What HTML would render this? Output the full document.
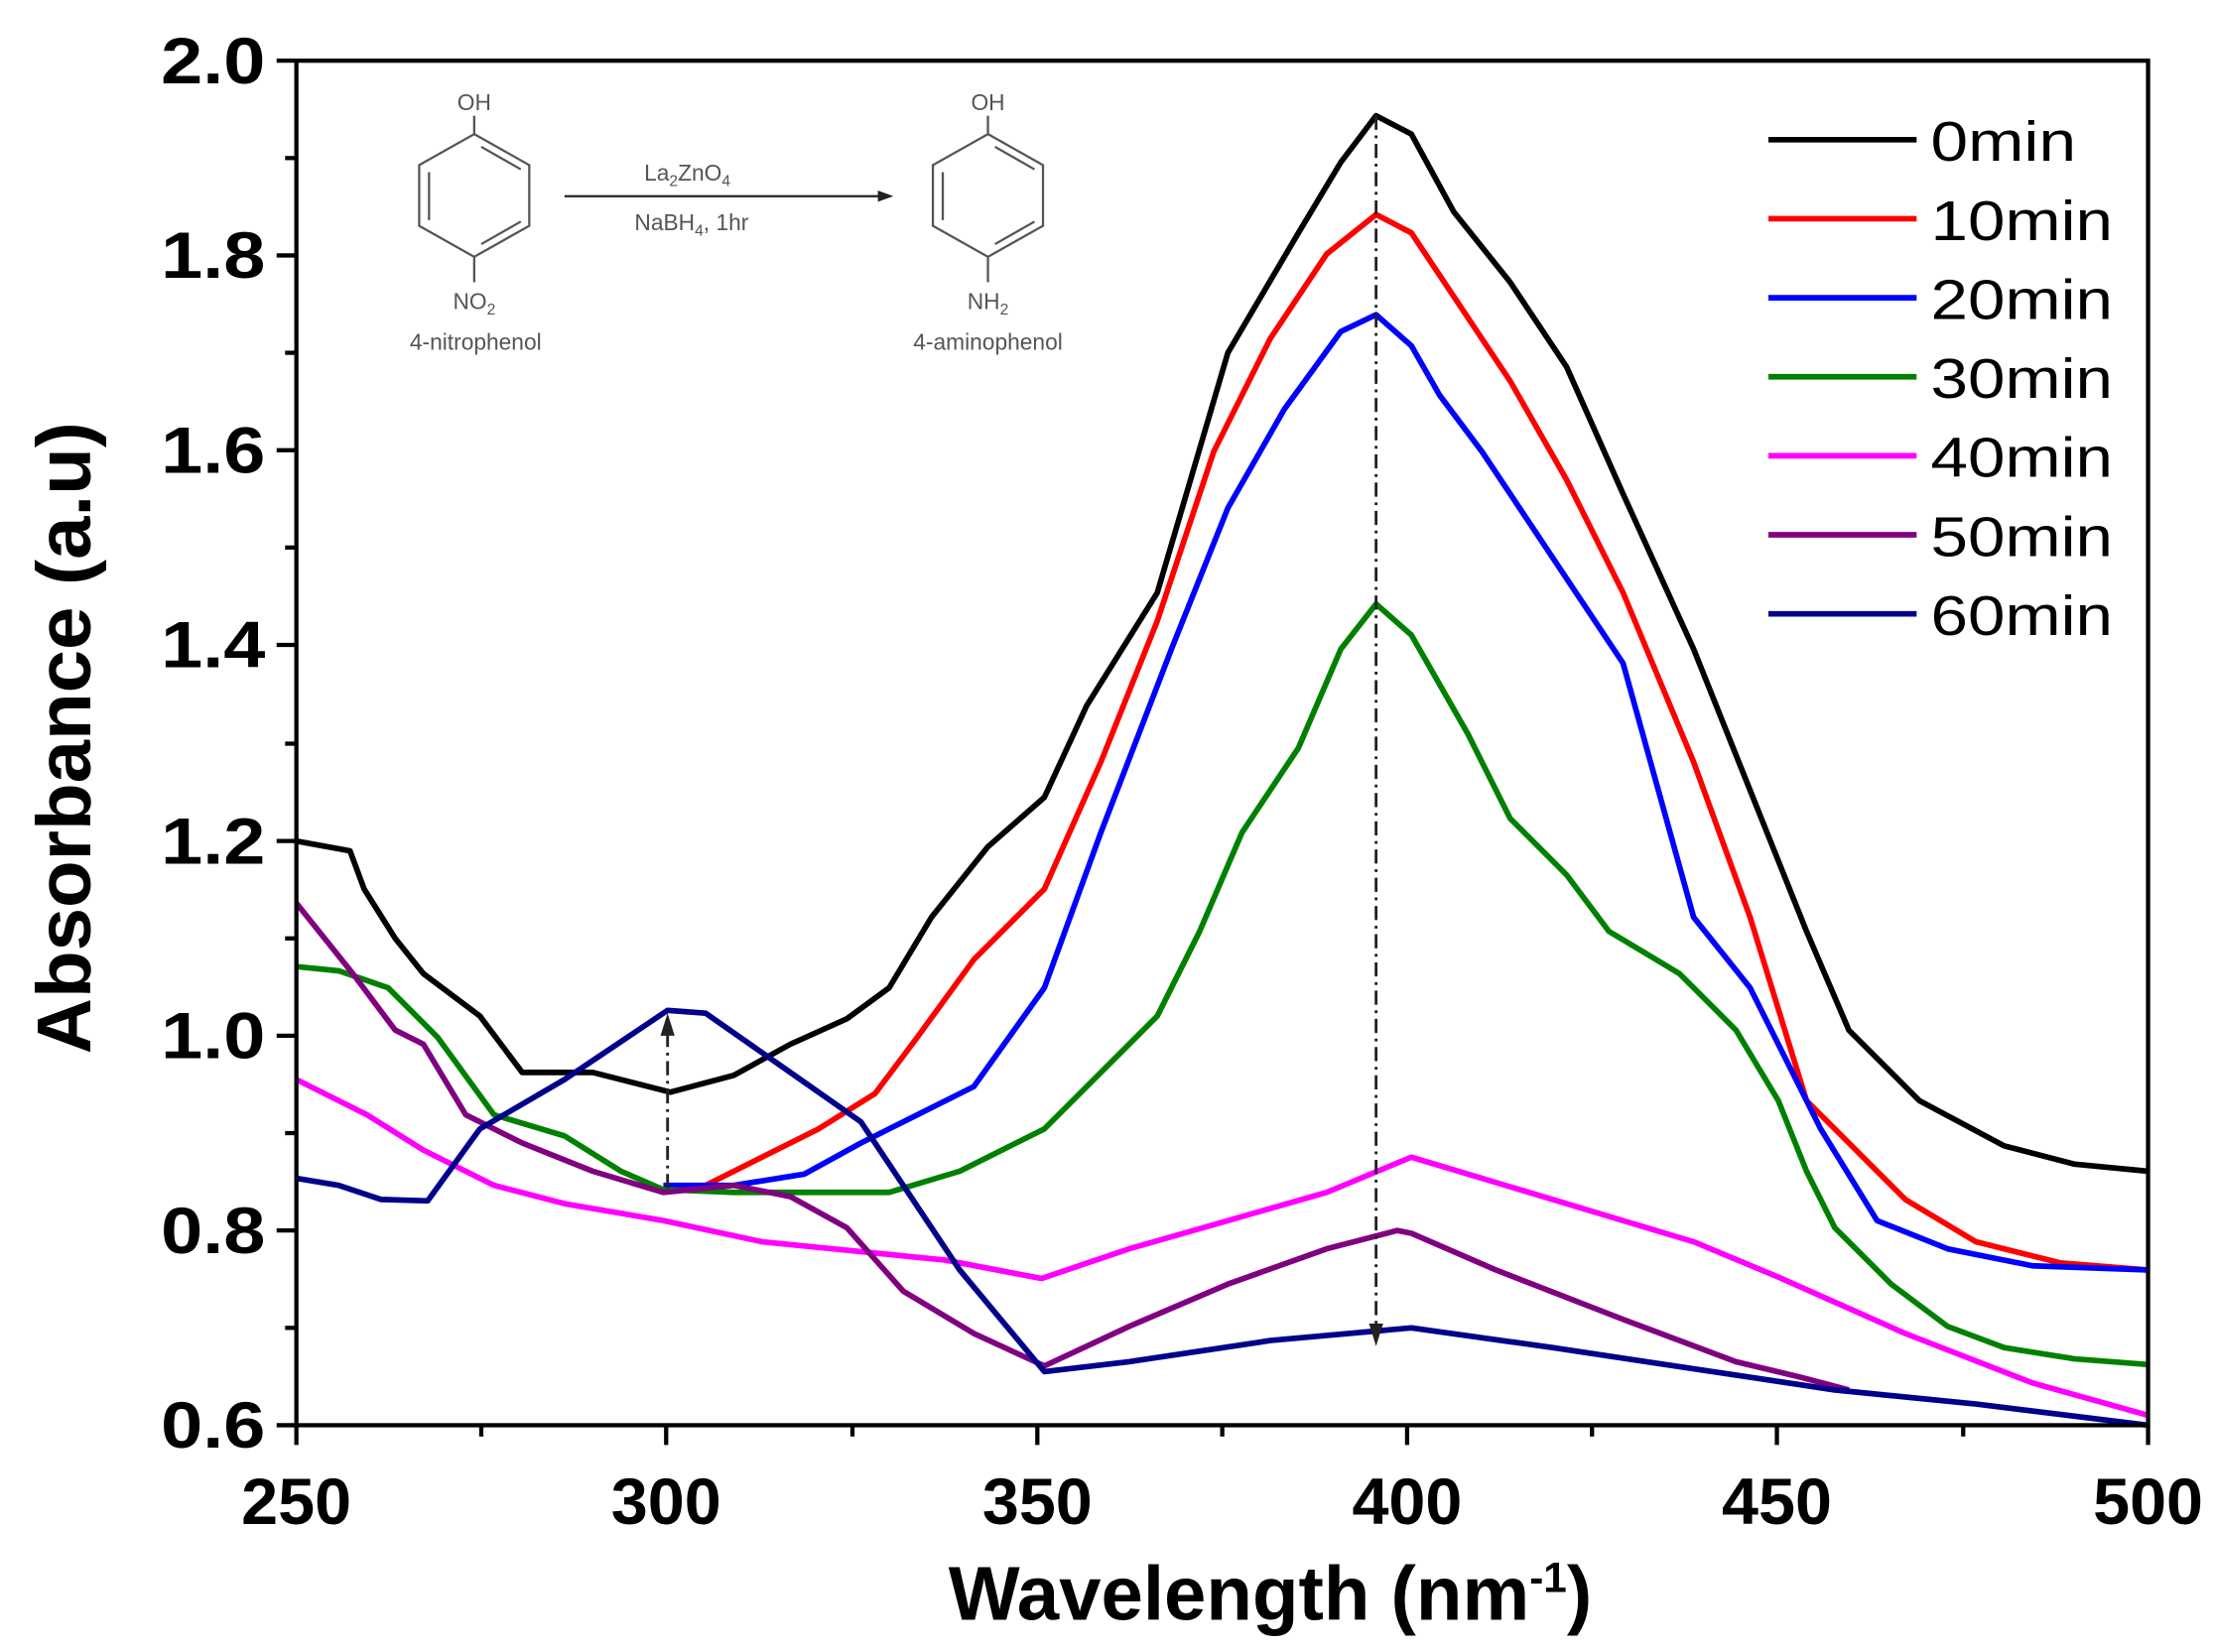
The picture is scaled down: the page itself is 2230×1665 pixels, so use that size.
<!DOCTYPE html>
<html><head><style>
html,body{margin:0;padding:0;background:#fff}
svg{display:block}
text{font-family:"Liberation Sans",sans-serif}
</style></head><body>
<svg width="2230" height="1665" viewBox="0 0 1568 1170.7" xmlns="http://www.w3.org/2000/svg">
<rect width="1568" height="1171" fill="#fff"/>
<g stroke="#555" stroke-width="1.6" fill="none">
<polygon points="336,95 375,117 375,160 336,182 297,160 297,117"/>
<line x1="304" y1="122" x2="304" y2="156"/><line x1="341" y1="104" x2="369" y2="120"/><line x1="341" y1="173" x2="369" y2="157"/>
<line x1="336" y1="95" x2="336" y2="82"/><line x1="336" y1="182" x2="336" y2="200"/>
<polygon points="700,95 739,117 739,160 700,182 661,160 661,117"/>
<line x1="668" y1="122" x2="668" y2="156"/><line x1="705" y1="104" x2="733" y2="120"/><line x1="705" y1="173" x2="733" y2="157"/>
<line x1="700" y1="95" x2="700" y2="82"/><line x1="700" y1="182" x2="700" y2="200"/>
<line x1="400" y1="139" x2="625" y2="139" stroke="#222"/>
</g>
<polygon points="633,139 622,135 622,143" fill="#222"/>
<g fill="#555" font-size="16" text-anchor="middle">
<text x="336" y="78">OH</text><text x="700" y="78">OH</text>
<text x="336" y="219">NO<tspan font-size="11" dy="4">2</tspan></text>
<text x="700" y="219">NH<tspan font-size="11" dy="4">2</tspan></text>
<text x="337" y="248">4-nitrophenol</text><text x="700" y="248">4-aminophenol</text>
<text x="487" y="128">La<tspan font-size="11" dy="4">2</tspan><tspan dy="-4">ZnO</tspan><tspan font-size="11" dy="4">4</tspan></text>
<text x="490" y="163">NaBH<tspan font-size="11" dy="4">4</tspan><tspan dy="-4">, 1hr</tspan></text>
</g>
<g fill="none" stroke-width="4" stroke-linejoin="round">
<polyline stroke="#000" points="210,596 248,603 258,630 280,665 300,690 340,720 370,760 420,760 475,774 520,762 560,740 600,722 630,700 660,650 700,600 740,565 770,500 820,420 870,250 920,165 950,115 975,82 1000,95 1030,150 1070,200 1110,260 1150,350 1200,460 1240,560 1280,660 1310,730 1360,780 1420,812 1470,825 1522,830"/>
<polyline stroke="#f00" points="470,843 500,840 540,820 580,800 620,775 650,735 690,680 740,630 780,540 820,440 860,320 900,240 940,180 975,152 1000,165 1030,210 1070,270 1110,340 1150,420 1200,540 1240,650 1280,780 1310,810 1350,850 1400,880 1460,895 1522,900"/>
<polyline stroke="#00f" points="470,840 520,840 570,832 610,810 650,790 690,770 740,700 780,590 830,460 870,360 910,290 950,235 975,223 1000,245 1020,280 1050,320 1090,380 1150,470 1200,650 1240,700 1290,800 1330,865 1380,885 1440,897 1522,900"/>
<polyline stroke="#008000" points="210,685 240,688 275,700 310,735 350,790 400,805 440,830 470,843 520,845 580,845 630,845 680,830 740,800 780,760 820,720 850,660 880,590 920,530 950,460 975,428 1000,450 1040,520 1070,580 1110,620 1140,660 1190,690 1230,730 1260,780 1280,830 1300,870 1340,910 1380,940 1420,955 1470,963 1522,967"/>
<polyline stroke="#f0f" points="210,765 260,790 300,815 350,840 400,853 470,865 540,880 600,886 670,893 738,906 800,885 870,865 940,845 1000,820 1100,850 1200,880 1260,905 1350,945 1440,980 1522,1003"/>
<polyline stroke="#800080" points="210,640 250,690 280,730 300,740 330,790 370,810 420,830 470,845 520,840 560,848 600,870 640,915 690,945 740,968 800,940 870,910 940,885 990,872 1000,874 1060,900 1150,935 1230,965 1276,976 1310,985"/>
<polyline stroke="#00008b" points="210,835 240,840 270,850 303,851 340,800 400,765 473,716 500,718 560,760 610,795 680,900 740,972 800,965 900,950 1000,941 1100,955 1200,970 1300,985 1400,995 1522,1010"/>
</g>
<g stroke="#222" stroke-width="2" stroke-dasharray="10,4,2,4" fill="none">
<line x1="975" y1="82" x2="975" y2="940"/><line x1="473" y1="842" x2="473" y2="732"/>
</g>
<polygon points="975,954 970,938 980,938" fill="#222"/>
<polygon points="473,718 468,734 478,734" fill="#222"/>
<rect x="210" y="43" width="1312" height="967" fill="none" stroke="#000" stroke-width="3"/>
<g stroke="#000" stroke-width="3">
<line x1="210" y1="1010" x2="210" y2="1024"/><line x1="341" y1="1010" x2="341" y2="1018"/>
<line x1="472" y1="1010" x2="472" y2="1024"/><line x1="604" y1="1010" x2="604" y2="1018"/>
<line x1="735" y1="1010" x2="735" y2="1024"/><line x1="866" y1="1010" x2="866" y2="1018"/>
<line x1="997" y1="1010" x2="997" y2="1024"/><line x1="1128" y1="1010" x2="1128" y2="1018"/>
<line x1="1259" y1="1010" x2="1259" y2="1024"/><line x1="1391" y1="1010" x2="1391" y2="1018"/>
<line x1="1522" y1="1010" x2="1522" y2="1024"/>
<line x1="196" y1="1010" x2="210" y2="1010"/><line x1="202" y1="941" x2="210" y2="941"/>
<line x1="196" y1="872" x2="210" y2="872"/><line x1="202" y1="803" x2="210" y2="803"/>
<line x1="196" y1="734" x2="210" y2="734"/><line x1="202" y1="665" x2="210" y2="665"/>
<line x1="196" y1="596" x2="210" y2="596"/><line x1="202" y1="527" x2="210" y2="527"/>
<line x1="196" y1="457" x2="210" y2="457"/><line x1="202" y1="388" x2="210" y2="388"/>
<line x1="196" y1="319" x2="210" y2="319"/><line x1="202" y1="250" x2="210" y2="250"/>
<line x1="196" y1="181" x2="210" y2="181"/><line x1="202" y1="112" x2="210" y2="112"/>
<line x1="196" y1="43" x2="210" y2="43"/>
</g>
<g font-size="46" font-weight="bold" text-anchor="middle" lengthAdjust="spacingAndGlyphs">
<text x="210" y="1080" textLength="78" lengthAdjust="spacingAndGlyphs">250</text><text x="472" y="1080" textLength="78" lengthAdjust="spacingAndGlyphs">300</text><text x="735" y="1080" textLength="78" lengthAdjust="spacingAndGlyphs">350</text>
<text x="997" y="1080" textLength="78" lengthAdjust="spacingAndGlyphs">400</text><text x="1259" y="1080" textLength="78" lengthAdjust="spacingAndGlyphs">450</text><text x="1522" y="1080" textLength="78" lengthAdjust="spacingAndGlyphs">500</text>
</g>
<g font-size="46" font-weight="bold" text-anchor="end">
<text x="188" y="1026" textLength="74" lengthAdjust="spacingAndGlyphs">0.6</text><text x="188" y="888" textLength="74" lengthAdjust="spacingAndGlyphs">0.8</text><text x="188" y="750" textLength="74" lengthAdjust="spacingAndGlyphs">1.0</text>
<text x="188" y="612" textLength="74" lengthAdjust="spacingAndGlyphs">1.2</text><text x="188" y="473" textLength="74" lengthAdjust="spacingAndGlyphs">1.4</text><text x="188" y="335" textLength="74" lengthAdjust="spacingAndGlyphs">1.6</text>
<text x="188" y="197" textLength="74" lengthAdjust="spacingAndGlyphs">1.8</text><text x="188" y="59" textLength="74" lengthAdjust="spacingAndGlyphs">2.0</text>
</g>
<text x="672" y="1148" font-size="54" font-weight="bold" textLength="456" lengthAdjust="spacingAndGlyphs">Wavelength (nm<tspan font-size="30" dy="-20">-1</tspan><tspan dy="20">)</tspan></text>
<text transform="translate(64,523) rotate(-90)" font-size="54" font-weight="bold" text-anchor="middle" textLength="448" lengthAdjust="spacingAndGlyphs">Absorbance (a.u)</text>
<g stroke-width="4">
<line x1="1253" y1="99" x2="1358" y2="99" stroke="#000"/>
<line x1="1253" y1="155" x2="1358" y2="155" stroke="#f00"/>
<line x1="1253" y1="211" x2="1358" y2="211" stroke="#00f"/>
<line x1="1253" y1="267" x2="1358" y2="267" stroke="#008000"/>
<line x1="1253" y1="323" x2="1358" y2="323" stroke="#f0f"/>
<line x1="1253" y1="379" x2="1358" y2="379" stroke="#800080"/>
<line x1="1253" y1="435" x2="1358" y2="435" stroke="#00008b"/>
</g>
<g font-size="40">
<text x="1368" y="114" textLength="103" lengthAdjust="spacingAndGlyphs">0min</text><text x="1368" y="170" textLength="129" lengthAdjust="spacingAndGlyphs">10min</text><text x="1368" y="226" textLength="129" lengthAdjust="spacingAndGlyphs">20min</text>
<text x="1368" y="282" textLength="129" lengthAdjust="spacingAndGlyphs">30min</text><text x="1368" y="338" textLength="129" lengthAdjust="spacingAndGlyphs">40min</text><text x="1368" y="394" textLength="129" lengthAdjust="spacingAndGlyphs">50min</text>
<text x="1368" y="450" textLength="129" lengthAdjust="spacingAndGlyphs">60min</text>
</g>
</svg>
</body></html>
